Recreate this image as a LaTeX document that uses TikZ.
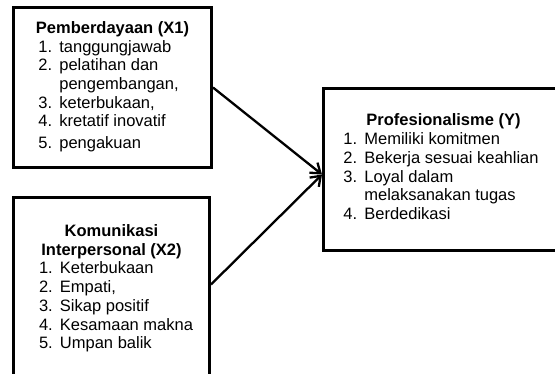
\documentclass[tikz,border=0pt]{standalone}
\usepackage{fontspec}
\setmainfont{Liberation Sans}
\usetikzlibrary{positioning, arrows.meta}

\begin{document}
\begin{tikzpicture}[
    x=1pt, y=-1pt,
    box/.style={
        rectangle,
        draw=black, line width=3pt,
        align=center,
        inner sep=0pt,
        font=\fontsize{16.5}{18.7}\selectfont
    },
    link/.style={-{Straight Barb[length=9pt,width=13pt]}, line width=2.3pt}
]
\useasboundingbox (0,0) rectangle (555,374);
\clip (0,0) rectangle (555,374);

\node[box, minimum width=198pt, minimum height=160pt, anchor=north west] (pemb) at (12,6) {%
    \textbf{Pemberdayaan (X1)}\\
    \begin{tabular}[t]{@{}p{21pt}@{}l@{\hspace{8pt}}}
    1. & tanggungjawab\\
    2. & pelatihan dan\\
       & pengembangan,\\
    3. & keterbukaan,\\
    4. & kretatif inovatif\\[2.5pt]
    5. & pengakuan
    \end{tabular}};
\node[box, minimum width=196pt, minimum height=184pt, below=27pt of pemb.south west, anchor=north west] (komu) {%
    \textbf{Komunikasi}\\
    \textbf{Interpersonal (X2)}\\
    \begin{tabular}[t]{@{\hspace{9pt}}p{21pt}@{}l@{}}
    1. & Keterbukaan\\
    2. & Empati,\\
    3. & Sikap positif\\
    4. & Kesamaan makna\\
    5. & Umpan balik
    \end{tabular}};
\node[box, minimum width=240pt, minimum height=162pt, anchor=north west] (prof) at (322,87) {%
    \textbf{Profesionalisme (Y)}\\
    \begin{tabular}[t]{@{}p{21pt}@{}l@{\hspace{5pt}}}
    1. & Memiliki komitmen\\
    2. & Bekerja sesuai keahlian\\
    3. & Loyal dalam\\
       & melaksanakan tugas\\
    4. & Berdedikasi
    \end{tabular}};

\draw[link] (pemb.east) -- ([yshift=-5pt]prof.west);
\draw[link] ([yshift=5pt]komu.east) -- ([yshift=-5pt]prof.west);

\end{tikzpicture}
\end{document}
